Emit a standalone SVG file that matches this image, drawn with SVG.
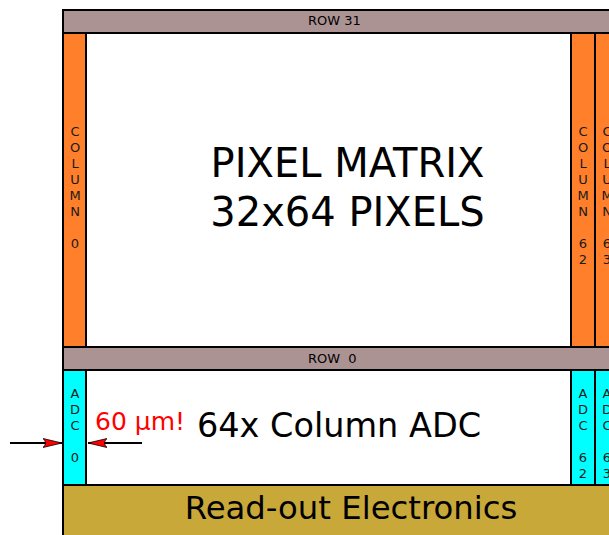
<svg xmlns="http://www.w3.org/2000/svg" width="609" height="535" viewBox="0 0 609 535">
<defs>
<style>
.blk{stroke:#000;stroke-width:2}
.row{fill:#ac9393}
.col{fill:#ff7f2a}
.adc{fill:#00ffff}
.white{fill:#fff}
.ro{fill:#c8a838}
text{font-family:"DejaVu Sans","Liberation Sans",sans-serif;fill:#000}
.small{font-size:13px}
.vert{font-size:13px;text-anchor:middle;fill:#1a1a1a}
.big{font-size:40px;text-anchor:middle}
.mid{font-size:33.5px;text-anchor:middle}
.red{font-size:25px;fill:#ff0000}
.arrow{stroke:#000;stroke-width:2;fill:none;marker-end:url(#ah)}
</style>
<marker id="ah" markerUnits="userSpaceOnUse" markerWidth="20" markerHeight="10" viewBox="0 0 20 10" refX="19" refY="5" orient="auto">
<path d="M19,5 L0,0.5 Q5,5 0,9.5 Z" fill="#ff0000" stroke="#000" stroke-width="0.8"/>
</marker>
</defs>
<rect width="609" height="535" fill="#fff"/>

<g id="pixel-matrix">
<rect class="white blk" x="63" y="33" width="560" height="314"/>
<text class="big" x="347.5" y="176.5">PIXEL MATRIX</text>
<text class="big" x="347.5" y="225.5">32x64 PIXELS</text>
</g>

<g id="row31">
<rect class="row blk" x="63" y="10" width="560" height="23"/>
<text class="small" x="308" y="25">ROW 31</text>
</g>

<g id="column0">
<rect class="col blk" x="63" y="33" width="23" height="314"/>
<text class="vert"><tspan x="75" y="135.5">C</tspan><tspan x="75" y="151.5">O</tspan><tspan x="75" y="167.5">L</tspan><tspan x="75" y="183.5">U</tspan><tspan x="75" y="199.5">M</tspan><tspan x="75" y="215.5">N</tspan><tspan x="75" y="247.5">0</tspan></text>
</g>

<g id="column62">
<rect class="col blk" x="571" y="33" width="24" height="314"/>
<text class="vert"><tspan x="583" y="135.5">C</tspan><tspan x="583" y="151.5">O</tspan><tspan x="583" y="167.5">L</tspan><tspan x="583" y="183.5">U</tspan><tspan x="583" y="199.5">M</tspan><tspan x="583" y="215.5">N</tspan><tspan x="583" y="247.5">6</tspan><tspan x="583" y="263.5">2</tspan></text>
</g>

<g id="column63">
<rect class="col blk" x="595" y="33" width="24" height="314"/>
<text class="vert"><tspan x="607" y="135.5">C</tspan><tspan x="607" y="151.5">O</tspan><tspan x="607" y="167.5">L</tspan><tspan x="607" y="183.5">U</tspan><tspan x="607" y="199.5">M</tspan><tspan x="607" y="215.5">N</tspan><tspan x="607" y="247.5">6</tspan><tspan x="607" y="263.5">3</tspan></text>
</g>

<g id="row0">
<rect class="row blk" x="63" y="347" width="560" height="23"/>
<text class="small" x="308" y="363">ROW <tspan dx="4">0</tspan></text>
</g>

<g id="adc-row">
<rect class="white blk" x="63" y="370" width="560" height="115"/>
<text class="mid" x="339" y="436.5">64x Column ADC</text>
</g>

<g id="adc0">
<rect class="adc blk" x="63" y="370" width="23" height="115"/>
<text class="vert"><tspan x="75" y="397.5">A</tspan><tspan x="75" y="413.5">D</tspan><tspan x="75" y="429.5">C</tspan><tspan x="75" y="461.5">0</tspan></text>
</g>

<g id="adc62">
<rect class="adc blk" x="571" y="370" width="24" height="115"/>
<text class="vert"><tspan x="583" y="397.5">A</tspan><tspan x="583" y="413.5">D</tspan><tspan x="583" y="429.5">C</tspan><tspan x="583" y="461.5">6</tspan><tspan x="583" y="477.5">2</tspan></text>
</g>

<g id="adc63">
<rect class="adc blk" x="595" y="370" width="24" height="115"/>
<text class="vert"><tspan x="607" y="397.5">A</tspan><tspan x="607" y="413.5">D</tspan><tspan x="607" y="429.5">C</tspan><tspan x="607" y="461.5">6</tspan><tspan x="607" y="477.5">3</tspan></text>
</g>

<g id="readout">
<rect class="ro blk" x="63" y="485" width="560" height="60"/>
<text class="mid" style="font-size:32.3px" x="351" y="518.5">Read-out Electronics</text>
</g>

<g id="width-label">
<text class="red" x="95" y="430">60 μm!</text>
</g>

<g id="connectors">
<line class="arrow" x1="10" y1="443" x2="62" y2="443"/>
<line class="arrow" x1="142" y1="443" x2="88" y2="443"/>
</g>
</svg>
